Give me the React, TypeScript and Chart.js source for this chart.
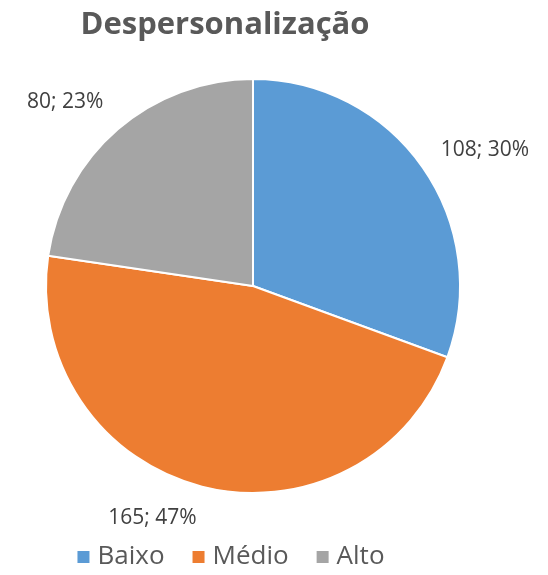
import React, { useEffect, useRef } from 'react';
import { Chart, registerables } from 'chart.js';

Chart.register(...registerables);

const TITLE = 'Despersonalização';
const categories = ['Baixo', 'Médio', 'Alto'];
const values = [108, 165, 80];
const percentLabels = ['30%', '47%', '23%'];
const colors = ['#5B9BD5', '#ED7D31', '#A5A5A5'];

const FONT = '"Open Sans", "Liberation Sans", sans-serif';

const overlayPlugin = {
  id: 'overlay',
  afterDraw(chart: any) {
    const ctx = chart.ctx as CanvasRenderingContext2D;
    const meta = chart.getDatasetMeta(0);
    ctx.save();

    // Title
    ctx.font = `bold 31px ${FONT}`;
    ctx.fillStyle = '#595959';
    ctx.textAlign = 'center';
    ctx.textBaseline = 'middle';
    ctx.fillText(TITLE, 225, 25);

    // Data labels
    ctx.font = `21px ${FONT}`;
    ctx.fillStyle = '#404040';
    meta.data.forEach((arc: any, i: number) => {
      const p = arc.getProps(['x', 'y', 'startAngle', 'endAngle', 'outerRadius'], true);
      const mid = (p.startAngle + p.endAngle) / 2;
      const c = Math.cos(mid);
      const s = Math.sin(mid);
      const r = p.outerRadius + 22;
      ctx.textAlign = c >= 0 ? 'left' : 'right';
      ctx.textBaseline = s >= 0 ? 'top' : 'bottom';
      ctx.fillText(`${values[i]}; ${percentLabels[i]}`, p.x + c * r, p.y + s * r + (s < 0 && c > 0 ? 6 : 0));
    });

    // Legend
    ctx.font = `26px ${FONT}`;
    ctx.textAlign = 'left';
    ctx.textBaseline = 'middle';
    const box = 12;
    const gapBoxText = 8;
    const gapItems = 28;
    const widths = categories.map((t) => ctx.measureText(t).width);
    const total = widths.reduce((a, w) => a + box + gapBoxText + w, 0) + gapItems * (categories.length - 1);
    let x = 231 - total / 2;
    const yc = 557;
    categories.forEach((t, i) => {
      ctx.fillStyle = colors[i];
      ctx.fillRect(x, yc - box / 2, box, box);
      ctx.fillStyle = '#595959';
      ctx.fillText(t, x + box + gapBoxText, yc);
      x += box + gapBoxText + widths[i] + gapItems;
    });

    ctx.restore();
  },
};

export default function App() {
  const canvasRef = useRef<HTMLCanvasElement | null>(null);

  useEffect(() => {
    if (!canvasRef.current) return;
    const chart = new Chart(canvasRef.current, {
      type: 'pie',
      data: {
        labels: categories,
        datasets: [
          {
            data: values,
            backgroundColor: colors,
            borderColor: '#ffffff',
            borderWidth: 2,
          },
        ],
      },
      options: {
        responsive: false,
        animation: false,
        layout: { padding: { left: 45, right: 87, top: 78, bottom: 81 } },
        plugins: {
          legend: { display: false },
          title: { display: false },
          tooltip: { enabled: false },
        },
      },
      plugins: [overlayPlugin],
    });
    return () => chart.destroy();
  }, []);

  return (
    <div style={{ position: 'absolute', left: 0, top: 0, width: 548, height: 575, background: '#fff' }}>
      <canvas ref={canvasRef} width={548} height={575} style={{ display: 'block' }} />
    </div>
  );
}
